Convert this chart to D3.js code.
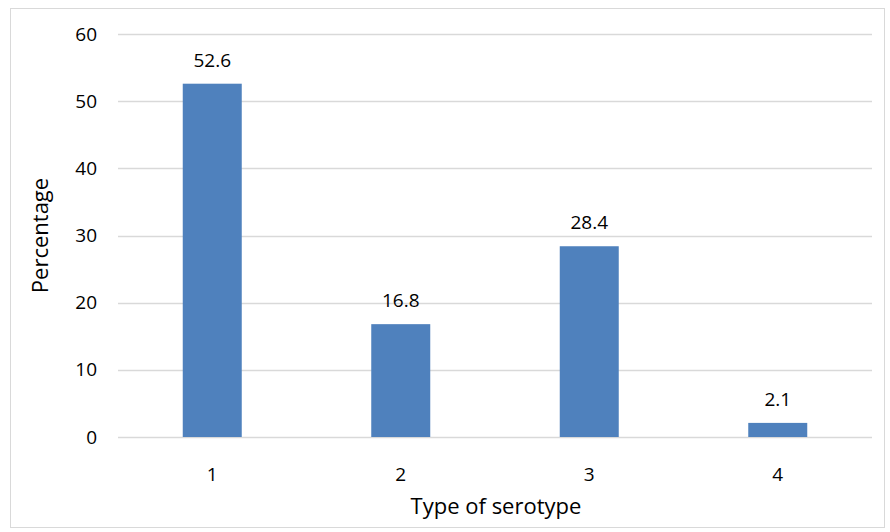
<!DOCTYPE html>
<html lang="en">
  <head>
    <meta charset="UTF-8" />
    <title>Type of serotype</title>
    <script src="https://d3js.org/d3.v7.min.js"></script>
    <style>
      body { margin: 0; background: #fff; }
      text { font-family: "Open Sans", "Liberation Sans", sans-serif; fill: #000; }
    </style>
  </head>
  <body>
    <div id="chart"></div>
    <script>
      // chart values
      const categories = ["1", "2", "3", "4"];
      const values = [52.6, 16.8, 28.4, 2.1];
      const yTicks = [0, 10, 20, 30, 40, 50, 60];

      const width = 890, height = 532;
      const margin = { top: 34, right: 18, bottom: 95, left: 118 };
      const w = width - margin.left - margin.right,
        h = height - margin.top - margin.bottom;

      const svg = d3
        .select("#chart")
        .append("svg")
        .attr("width", width)
        .attr("height", height);

      // outer frame
      svg
        .append("rect")
        .attr("x", 10.5)
        .attr("y", 8.5)
        .attr("width", width - 16)
        .attr("height", height - 13)
        .attr("fill", "none")
        .attr("stroke", "#d9d9d9");

      const g = svg
        .append("g")
        .attr("transform", `translate(${margin.left},${margin.top})`);

      const x = d3
        .scaleBand()
        .domain(categories)
        .range([0, w])
        .paddingInner(0.687)
        .paddingOuter(0.687 / 2);

      const y = d3.scaleLinear().domain([0, 60]).range([h, 0]);

      // gridlines
      g.append("g")
        .selectAll("line")
        .data(yTicks)
        .join("line")
        .attr("x1", 0)
        .attr("x2", w)
        .attr("y1", (d) => Math.round(y(d)) + 0.5)
        .attr("y2", (d) => Math.round(y(d)) + 0.5)
        .attr("stroke", "#d9d9d9")
        .attr("stroke-width", 1.3);

      // y tick labels
      g.append("g")
        .selectAll("text")
        .data(yTicks)
        .join("text")
        .attr("x", -21)
        .attr("y", (d) => y(d))
        .attr("dy", "0.35em")
        .attr("text-anchor", "end")
        .style("font-size", "19px")
        .text((d) => d);

      // bars
      g.append("g")
        .selectAll("rect")
        .data(values)
        .join("rect")
        .attr("x", (d, i) => x(categories[i]))
        .attr("y", (d) => y(d))
        .attr("width", x.bandwidth())
        .attr("height", (d) => h - y(d))
        .attr("fill", "#4f81bd");

      // data labels
      g.append("g")
        .selectAll("text")
        .data(values)
        .join("text")
        .attr("x", (d, i) => x(categories[i]) + x.bandwidth() / 2)
        .attr("y", (d) => y(d) - 17)
        .attr("text-anchor", "middle")
        .style("font-size", "19px")
        .text((d) => d.toFixed(1));

      // x tick labels
      g.append("g")
        .selectAll("text")
        .data(categories)
        .join("text")
        .attr("x", (d) => x(d) + x.bandwidth() / 2)
        .attr("y", h + 44)
        .attr("text-anchor", "middle")
        .style("font-size", "19px")
        .text((d) => d);

      // axis titles
      svg
        .append("text")
        .attr("x", margin.left + w / 2 + 1)
        .attr("y", 514)
        .attr("text-anchor", "middle")
        .style("font-size", "22px")
        .text("Type of serotype");

      svg
        .append("text")
        .attr("transform", `translate(48,${margin.top + h / 2})rotate(-90)`)
        .attr("text-anchor", "middle")
        .style("font-size", "22px")
        .text("Percentage");
    </script>
  </body>
</html>
